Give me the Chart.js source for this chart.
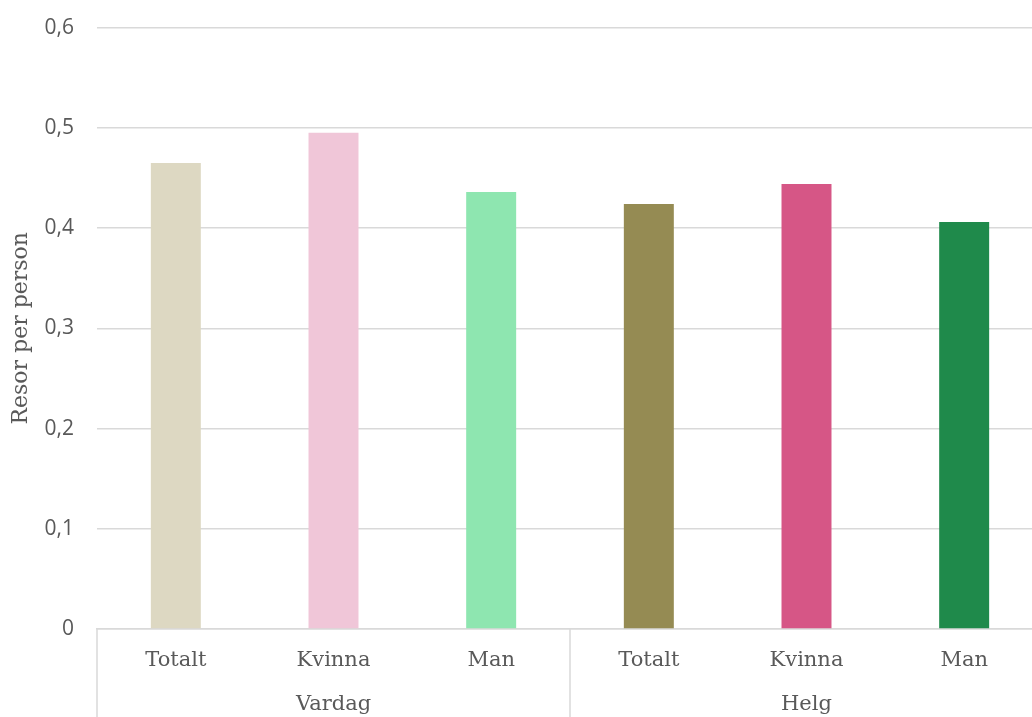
<!DOCTYPE html>
<html>
<head>
    <title>Resor per person</title>
    <script src="https://cdn.jsdelivr.net/npm/chart.js"></script>
    <style>
        body { margin: 0; background: #fff; }
        #marco { width: 1032px; height: 717px; overflow: hidden; }
        #wrap { width: 1043px; height: 725px; margin-top: -8px; }
    </style>
</head>
<body>
    <div id="marco"><div id="wrap"><canvas id="grafico"></canvas></div></div>
    <script>
        // Datos
        const categorias = ['Totalt', 'Kvinna', 'Man', 'Totalt', 'Kvinna', 'Man'];
        const grupos = ['Vardag', 'Helg'];
        const valores = [0.465, 0.495, 0.436, 0.424, 0.444, 0.406];
        const colores = ['#DDD8C2', '#F0C6D8', '#8EE6B0', '#958B53', '#D65686', '#1F8A4B'];
        const ticksY = [0, 0.1, 0.2, 0.3, 0.4, 0.5, 0.6];

        const serif = '"DejaVu Serif", serif';
        const gris = '#595959';
        const linea = '#d9d9d9';

        // Etiquetas de grupo y separadores bajo el eje X
        const grupoPlugin = {
            id: 'grupos',
            afterDraw(chart) {
                const ctx = chart.ctx;
                const x = chart.scales.x;
                const area = chart.chartArea;
                const porGrupo = categorias.length / grupos.length;
                const paso = x.getPixelForValue(1) - x.getPixelForValue(0);
                ctx.save();
                ctx.strokeStyle = linea;
                ctx.lineWidth = 1.5;
                for (let g = 0; g <= grupos.length; g++) {
                    const px = x.getPixelForValue(g * porGrupo) - paso / 2;
                    ctx.beginPath();
                    ctx.moveTo(px, area.bottom);
                    ctx.lineTo(px, chart.height);
                    ctx.stroke();
                }
                ctx.fillStyle = gris;
                ctx.font = '21px ' + serif;
                ctx.textAlign = 'center';
                ctx.textBaseline = 'middle';
                grupos.forEach((nombre, g) => {
                    const a = x.getPixelForValue(g * porGrupo);
                    const b = x.getPixelForValue(g * porGrupo + porGrupo - 1);
                    ctx.fillText(nombre, (a + b) / 2, area.bottom + 76);
                });
                ctx.restore();
            }
        };

        new Chart(document.getElementById('grafico'), {
            type: 'bar',
            data: {
                labels: categorias,
                datasets: [{
                    data: valores,
                    backgroundColor: colores,
                    barPercentage: 0.317,
                    categoryPercentage: 1
                }]
            },
            options: {
                responsive: true,
                maintainAspectRatio: false,
                animation: false,
                layout: { padding: 0 },
                plugins: {
                    legend: { display: false },
                    tooltip: { enabled: false }
                },
                scales: {
                    x: {
                        grid: { display: false, drawTicks: false },
                        border: { color: linea, width: 1.5 },
                        ticks: {
                            color: gris,
                            font: { family: serif, size: 21 },
                            padding: 19
                        },
                        afterFit(s) { s.height = 88; }
                    },
                    y: {
                        min: 0,
                        max: 0.6,
                        afterBuildTicks(s) { s.ticks = ticksY.map(v => ({ value: v })); },
                        grid: { color: linea, lineWidth: 1.5, drawTicks: false },
                        border: { display: false },
                        ticks: {
                            color: gris,
                            font: { family: '"Open Sans", sans-serif', size: 21 },
                            padding: 23,
                            callback: v => v === 0 ? '0' : v.toFixed(1).replace('.', ',')
                        },
                        title: {
                            display: true,
                            text: 'Resor per person',
                            color: gris,
                            font: { family: serif, size: 22 },
                            padding: { top: 8, bottom: 0 }
                        },
                        afterFit(s) { s.width = 97; }
                    }
                }
            },
            plugins: [grupoPlugin]
        });
    </script>
</body>
</html>
